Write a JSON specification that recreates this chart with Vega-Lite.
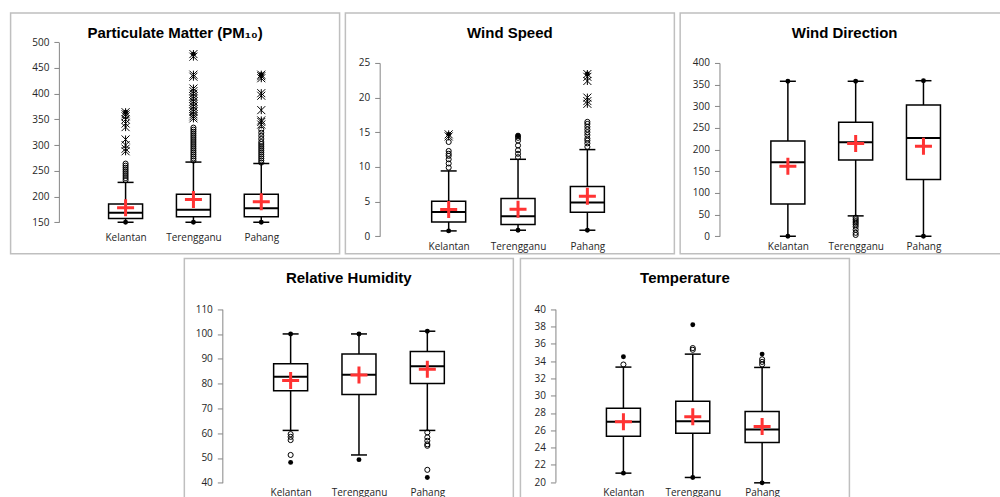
{
"$schema": "https://vega.github.io/schema/vega-lite/v6.json",
"padding": {"left": 9.25, "top": 11.95, "right": 0, "bottom": 0},
"background": "#ffffff",
"config": {
 "view": {"stroke": "#bfbfbf", "strokeWidth": 1.5},
 "axis": {"grid": false, "domainColor": "#868686", "tickColor": "#868686", "labelColor": "#262626", "labelFont": "Open Sans", "labelFontSize": 10, "title": null, "labelOverlap": false},
 "axisY": {"tickSize": 5, "labelPadding": 5, "domainWidth": 1, "tickWidth": 1, "labelOverlap": false},
 "axisX": {"domain": false, "ticks": false, "tickSize": 0, "labelPadding": 0, "labelAngle": 0},
 "title": {"font": "Liberation Sans", "fontSize": 15, "fontWeight": "bold", "color": "#000000", "anchor": "middle", "frame": "group", "baseline": "alphabetic"},
 "tick": {"opacity": 1},
 "point": {"opacity": 1}
},
"datasets": {
 "boxes": [
  {"panel": "PM", "site": "Kelantan", "lo": 150, "q1": 157.5, "med": 168.5, "q3": 185.5, "hi": 227.5, "mean": 178},
  {"panel": "PM", "site": "Terengganu", "lo": 150, "q1": 160.5, "med": 174.5, "q3": 204.5, "hi": 267, "mean": 194},
  {"panel": "PM", "site": "Pahang", "lo": 150, "q1": 160.5, "med": 177, "q3": 204.5, "hi": 264, "mean": 190},
  {"panel": "WS", "site": "Kelantan", "lo": 0.77, "q1": 2.07, "med": 3.5, "q3": 5.05, "hi": 9.42, "mean": 3.85},
  {"panel": "WS", "site": "Terengganu", "lo": 0.87, "q1": 1.68, "med": 2.88, "q3": 5.43, "hi": 11.1, "mean": 3.9},
  {"panel": "WS", "site": "Pahang", "lo": 0.87, "q1": 3.46, "med": 4.86, "q3": 7.16, "hi": 12.5, "mean": 5.77},
  {"panel": "WD", "site": "Kelantan", "lo": 0, "q1": 74.6, "med": 170.8, "q3": 220, "hi": 357.7, "mean": 161.5},
  {"panel": "WD", "site": "Terengganu", "lo": 47, "q1": 176, "med": 217, "q3": 263, "hi": 357.7, "mean": 213.8},
  {"panel": "WD", "site": "Pahang", "lo": 0, "q1": 130.8, "med": 227, "q3": 303, "hi": 359, "mean": 207.7},
  {"panel": "RH", "site": "Kelantan", "lo": 61.1, "q1": 77.1, "med": 82.7, "q3": 88, "hi": 100, "mean": 81.2},
  {"panel": "RH", "site": "Terengganu", "lo": 51.2, "q1": 75.6, "med": 83.5, "q3": 91.9, "hi": 100, "mean": 83.4},
  {"panel": "RH", "site": "Pahang", "lo": 61.1, "q1": 80, "med": 87, "q3": 92.9, "hi": 101.1, "mean": 85.8},
  {"panel": "T", "site": "Kelantan", "lo": 21.04, "q1": 25.3, "med": 26.97, "q3": 28.55, "hi": 33.3, "mean": 26.97},
  {"panel": "T", "site": "Terengganu", "lo": 20.54, "q1": 25.66, "med": 27.05, "q3": 29.36, "hi": 34.8, "mean": 27.55},
  {"panel": "T", "site": "Pahang", "lo": 19.92, "q1": 24.59, "med": 26.09, "q3": 28.17, "hi": 33.26, "mean": 26.44}
 ],
 "points": [
  {"panel": "PM", "site": "Kelantan", "kind": "mild", "value": 232},
  {"panel": "PM", "site": "Kelantan", "kind": "mild", "value": 236},
  {"panel": "PM", "site": "Kelantan", "kind": "mild", "value": 240},
  {"panel": "PM", "site": "Kelantan", "kind": "mild", "value": 244},
  {"panel": "PM", "site": "Kelantan", "kind": "mild", "value": 248},
  {"panel": "PM", "site": "Kelantan", "kind": "mild", "value": 252},
  {"panel": "PM", "site": "Kelantan", "kind": "mild", "value": 256},
  {"panel": "PM", "site": "Kelantan", "kind": "mild", "value": 260},
  {"panel": "PM", "site": "Kelantan", "kind": "mild", "value": 264},
  {"panel": "PM", "site": "Kelantan", "kind": "extreme", "value": 288},
  {"panel": "PM", "site": "Kelantan", "kind": "extreme", "value": 293},
  {"panel": "PM", "site": "Kelantan", "kind": "extreme", "value": 300},
  {"panel": "PM", "site": "Kelantan", "kind": "extreme", "value": 311},
  {"panel": "PM", "site": "Kelantan", "kind": "extreme", "value": 335},
  {"panel": "PM", "site": "Kelantan", "kind": "extreme", "value": 342},
  {"panel": "PM", "site": "Kelantan", "kind": "extreme", "value": 350},
  {"panel": "PM", "site": "Kelantan", "kind": "extreme", "value": 356},
  {"panel": "PM", "site": "Kelantan", "kind": "extreme", "value": 360},
  {"panel": "PM", "site": "Kelantan", "kind": "extreme", "value": 364},
  {"panel": "PM", "site": "Kelantan", "kind": "dot", "value": 150},
  {"panel": "PM", "site": "Kelantan", "kind": "dot", "value": 364},
  {"panel": "PM", "site": "Terengganu", "kind": "mild", "value": 270},
  {"panel": "PM", "site": "Terengganu", "kind": "mild", "value": 274},
  {"panel": "PM", "site": "Terengganu", "kind": "mild", "value": 278},
  {"panel": "PM", "site": "Terengganu", "kind": "mild", "value": 282},
  {"panel": "PM", "site": "Terengganu", "kind": "mild", "value": 286},
  {"panel": "PM", "site": "Terengganu", "kind": "mild", "value": 290},
  {"panel": "PM", "site": "Terengganu", "kind": "mild", "value": 294},
  {"panel": "PM", "site": "Terengganu", "kind": "mild", "value": 298},
  {"panel": "PM", "site": "Terengganu", "kind": "mild", "value": 302},
  {"panel": "PM", "site": "Terengganu", "kind": "mild", "value": 306},
  {"panel": "PM", "site": "Terengganu", "kind": "mild", "value": 310},
  {"panel": "PM", "site": "Terengganu", "kind": "mild", "value": 314},
  {"panel": "PM", "site": "Terengganu", "kind": "mild", "value": 318},
  {"panel": "PM", "site": "Terengganu", "kind": "mild", "value": 322},
  {"panel": "PM", "site": "Terengganu", "kind": "mild", "value": 326},
  {"panel": "PM", "site": "Terengganu", "kind": "mild", "value": 330},
  {"panel": "PM", "site": "Terengganu", "kind": "mild", "value": 334},
  {"panel": "PM", "site": "Terengganu", "kind": "extreme", "value": 352},
  {"panel": "PM", "site": "Terengganu", "kind": "extreme", "value": 356},
  {"panel": "PM", "site": "Terengganu", "kind": "extreme", "value": 360},
  {"panel": "PM", "site": "Terengganu", "kind": "extreme", "value": 365},
  {"panel": "PM", "site": "Terengganu", "kind": "extreme", "value": 370},
  {"panel": "PM", "site": "Terengganu", "kind": "extreme", "value": 375},
  {"panel": "PM", "site": "Terengganu", "kind": "extreme", "value": 380},
  {"panel": "PM", "site": "Terengganu", "kind": "extreme", "value": 385},
  {"panel": "PM", "site": "Terengganu", "kind": "extreme", "value": 390},
  {"panel": "PM", "site": "Terengganu", "kind": "extreme", "value": 395},
  {"panel": "PM", "site": "Terengganu", "kind": "extreme", "value": 400},
  {"panel": "PM", "site": "Terengganu", "kind": "extreme", "value": 405},
  {"panel": "PM", "site": "Terengganu", "kind": "extreme", "value": 410},
  {"panel": "PM", "site": "Terengganu", "kind": "extreme", "value": 433},
  {"panel": "PM", "site": "Terengganu", "kind": "extreme", "value": 437},
  {"panel": "PM", "site": "Terengganu", "kind": "extreme", "value": 472},
  {"panel": "PM", "site": "Terengganu", "kind": "extreme", "value": 477},
  {"panel": "PM", "site": "Terengganu", "kind": "dot", "value": 150},
  {"panel": "PM", "site": "Terengganu", "kind": "dot", "value": 477},
  {"panel": "PM", "site": "Pahang", "kind": "mild", "value": 266},
  {"panel": "PM", "site": "Pahang", "kind": "mild", "value": 270},
  {"panel": "PM", "site": "Pahang", "kind": "mild", "value": 274},
  {"panel": "PM", "site": "Pahang", "kind": "mild", "value": 278},
  {"panel": "PM", "site": "Pahang", "kind": "mild", "value": 282},
  {"panel": "PM", "site": "Pahang", "kind": "mild", "value": 286},
  {"panel": "PM", "site": "Pahang", "kind": "mild", "value": 290},
  {"panel": "PM", "site": "Pahang", "kind": "mild", "value": 294},
  {"panel": "PM", "site": "Pahang", "kind": "mild", "value": 298},
  {"panel": "PM", "site": "Pahang", "kind": "mild", "value": 302},
  {"panel": "PM", "site": "Pahang", "kind": "mild", "value": 306},
  {"panel": "PM", "site": "Pahang", "kind": "mild", "value": 312},
  {"panel": "PM", "site": "Pahang", "kind": "mild", "value": 318},
  {"panel": "PM", "site": "Pahang", "kind": "mild", "value": 324},
  {"panel": "PM", "site": "Pahang", "kind": "mild", "value": 330},
  {"panel": "PM", "site": "Pahang", "kind": "extreme", "value": 340},
  {"panel": "PM", "site": "Pahang", "kind": "extreme", "value": 345},
  {"panel": "PM", "site": "Pahang", "kind": "extreme", "value": 348},
  {"panel": "PM", "site": "Pahang", "kind": "extreme", "value": 368},
  {"panel": "PM", "site": "Pahang", "kind": "extreme", "value": 396},
  {"panel": "PM", "site": "Pahang", "kind": "extreme", "value": 401},
  {"panel": "PM", "site": "Pahang", "kind": "extreme", "value": 430},
  {"panel": "PM", "site": "Pahang", "kind": "extreme", "value": 434},
  {"panel": "PM", "site": "Pahang", "kind": "extreme", "value": 437},
  {"panel": "PM", "site": "Pahang", "kind": "dot", "value": 150},
  {"panel": "PM", "site": "Pahang", "kind": "dot", "value": 437},
  {"panel": "WS", "site": "Kelantan", "kind": "mild", "value": 9.9},
  {"panel": "WS", "site": "Kelantan", "kind": "mild", "value": 10.5},
  {"panel": "WS", "site": "Kelantan", "kind": "mild", "value": 11.1},
  {"panel": "WS", "site": "Kelantan", "kind": "mild", "value": 11.6},
  {"panel": "WS", "site": "Kelantan", "kind": "mild", "value": 11.9},
  {"panel": "WS", "site": "Kelantan", "kind": "mild", "value": 12.3},
  {"panel": "WS", "site": "Kelantan", "kind": "mild", "value": 13.6},
  {"panel": "WS", "site": "Kelantan", "kind": "extreme", "value": 14.4},
  {"panel": "WS", "site": "Kelantan", "kind": "extreme", "value": 14.7},
  {"panel": "WS", "site": "Kelantan", "kind": "dot", "value": 0.77},
  {"panel": "WS", "site": "Kelantan", "kind": "dot", "value": 14.7},
  {"panel": "WS", "site": "Terengganu", "kind": "mild", "value": 11.4},
  {"panel": "WS", "site": "Terengganu", "kind": "mild", "value": 11.9},
  {"panel": "WS", "site": "Terengganu", "kind": "mild", "value": 12.4},
  {"panel": "WS", "site": "Terengganu", "kind": "mild", "value": 13.1},
  {"panel": "WS", "site": "Terengganu", "kind": "mild", "value": 13.8},
  {"panel": "WS", "site": "Terengganu", "kind": "mild", "value": 14.2},
  {"panel": "WS", "site": "Terengganu", "kind": "mild", "value": 14.5},
  {"panel": "WS", "site": "Terengganu", "kind": "dot", "value": 0.87},
  {"panel": "WS", "site": "Terengganu", "kind": "dot", "value": 14.5},
  {"panel": "WS", "site": "Pahang", "kind": "mild", "value": 12.9},
  {"panel": "WS", "site": "Pahang", "kind": "mild", "value": 13.4},
  {"panel": "WS", "site": "Pahang", "kind": "mild", "value": 13.8},
  {"panel": "WS", "site": "Pahang", "kind": "mild", "value": 14.1},
  {"panel": "WS", "site": "Pahang", "kind": "mild", "value": 14.6},
  {"panel": "WS", "site": "Pahang", "kind": "mild", "value": 15.0},
  {"panel": "WS", "site": "Pahang", "kind": "mild", "value": 15.4},
  {"panel": "WS", "site": "Pahang", "kind": "mild", "value": 15.8},
  {"panel": "WS", "site": "Pahang", "kind": "mild", "value": 16.2},
  {"panel": "WS", "site": "Pahang", "kind": "mild", "value": 16.5},
  {"panel": "WS", "site": "Pahang", "kind": "extreme", "value": 19.1},
  {"panel": "WS", "site": "Pahang", "kind": "extreme", "value": 19.5},
  {"panel": "WS", "site": "Pahang", "kind": "extreme", "value": 20.0},
  {"panel": "WS", "site": "Pahang", "kind": "extreme", "value": 22.4},
  {"panel": "WS", "site": "Pahang", "kind": "extreme", "value": 23.0},
  {"panel": "WS", "site": "Pahang", "kind": "extreme", "value": 23.4},
  {"panel": "WS", "site": "Pahang", "kind": "dot", "value": 0.87},
  {"panel": "WS", "site": "Pahang", "kind": "dot", "value": 23.4},
  {"panel": "WD", "site": "Kelantan", "kind": "dot", "value": 0},
  {"panel": "WD", "site": "Kelantan", "kind": "dot", "value": 357.7},
  {"panel": "WD", "site": "Terengganu", "kind": "mild", "value": 43},
  {"panel": "WD", "site": "Terengganu", "kind": "mild", "value": 39},
  {"panel": "WD", "site": "Terengganu", "kind": "mild", "value": 35},
  {"panel": "WD", "site": "Terengganu", "kind": "mild", "value": 31},
  {"panel": "WD", "site": "Terengganu", "kind": "mild", "value": 27},
  {"panel": "WD", "site": "Terengganu", "kind": "mild", "value": 22},
  {"panel": "WD", "site": "Terengganu", "kind": "mild", "value": 15},
  {"panel": "WD", "site": "Terengganu", "kind": "mild", "value": 8},
  {"panel": "WD", "site": "Terengganu", "kind": "mild", "value": 3},
  {"panel": "WD", "site": "Terengganu", "kind": "dot", "value": 357.7},
  {"panel": "WD", "site": "Pahang", "kind": "dot", "value": 0},
  {"panel": "WD", "site": "Pahang", "kind": "dot", "value": 359},
  {"panel": "RH", "site": "Kelantan", "kind": "mild", "value": 59.6},
  {"panel": "RH", "site": "Kelantan", "kind": "mild", "value": 58.5},
  {"panel": "RH", "site": "Kelantan", "kind": "mild", "value": 57.2},
  {"panel": "RH", "site": "Kelantan", "kind": "mild", "value": 51.2},
  {"panel": "RH", "site": "Kelantan", "kind": "dot", "value": 48.2},
  {"panel": "RH", "site": "Kelantan", "kind": "dot", "value": 100},
  {"panel": "RH", "site": "Terengganu", "kind": "dot", "value": 49.3},
  {"panel": "RH", "site": "Terengganu", "kind": "dot", "value": 100},
  {"panel": "RH", "site": "Pahang", "kind": "mild", "value": 60.3},
  {"panel": "RH", "site": "Pahang", "kind": "mild", "value": 58.3},
  {"panel": "RH", "site": "Pahang", "kind": "mild", "value": 56.9},
  {"panel": "RH", "site": "Pahang", "kind": "mild", "value": 55.5},
  {"panel": "RH", "site": "Pahang", "kind": "mild", "value": 54.9},
  {"panel": "RH", "site": "Pahang", "kind": "mild", "value": 45.2},
  {"panel": "RH", "site": "Pahang", "kind": "dot", "value": 42.1},
  {"panel": "RH", "site": "Pahang", "kind": "dot", "value": 101.1},
  {"panel": "T", "site": "Kelantan", "kind": "mild", "value": 33.6},
  {"panel": "T", "site": "Kelantan", "kind": "dot", "value": 34.5},
  {"panel": "T", "site": "Kelantan", "kind": "dot", "value": 21.04},
  {"panel": "T", "site": "Terengganu", "kind": "mild", "value": 35.3},
  {"panel": "T", "site": "Terengganu", "kind": "mild", "value": 35.5},
  {"panel": "T", "site": "Terengganu", "kind": "dot", "value": 38.2},
  {"panel": "T", "site": "Terengganu", "kind": "dot", "value": 20.54},
  {"panel": "T", "site": "Pahang", "kind": "mild", "value": 33.6},
  {"panel": "T", "site": "Pahang", "kind": "mild", "value": 33.9},
  {"panel": "T", "site": "Pahang", "kind": "mild", "value": 34.2},
  {"panel": "T", "site": "Pahang", "kind": "dot", "value": 34.8},
  {"panel": "T", "site": "Pahang", "kind": "dot", "value": 19.92}
 ]
},
"vconcat": [
 {"hconcat": [
  {"width": 329, "height": 240.8,
   "title": {"text": "Particulate Matter (PM₁₀)", "offset": -28.5},
   "resolve": {"axis": {"y": "independent"}},
   "encoding": {"x": {"field": "site", "type": "nominal", "scale": {"type": "point", "padding": 0, "domain": ["Kelantan", "Terengganu", "Pahang"], "range": [115, 250.7]}, "axis": {"offset": -20.8}}},
   "layer": [
    {"data": {"name": "boxes"}, "transform": [{"filter": "datum.panel === 'PM'"}], "mark": {"type": "rule", "color": "#000000", "strokeWidth": 1.5},
     "encoding": {"y": {"field": "lo", "type": "quantitative", "title": null, "scale": {"domain": [150, 500], "range": [209.3, 29.3], "nice": false, "zero": false}, "axis": {"values": [150, 200, 250, 300, 350, 400, 450, 500], "offset": -48.3, "labelOverlap": false, "labelBound": false}}, "y2": {"field": "hi"}}},
    {"data": {"name": "boxes"}, "transform": [{"filter": "datum.panel === 'PM'"}], "mark": {"type": "bar", "size": 34, "fill": "#ffffff", "stroke": "#000000", "strokeWidth": 1.5},
     "encoding": {"y": {"field": "q1", "type": "quantitative", "axis": null}, "y2": {"field": "q3"}}},
    {"data": {"name": "boxes"}, "transform": [{"filter": "datum.panel === 'PM'"}], "mark": {"type": "tick", "size": 34, "thickness": 2, "color": "#000000"},
     "encoding": {"y": {"field": "med", "type": "quantitative", "axis": null}}},
    {"data": {"name": "boxes"}, "transform": [{"filter": "datum.panel === 'PM'"}], "mark": {"type": "tick", "size": 16, "thickness": 1.5, "color": "#000000"},
     "encoding": {"y": {"field": "lo", "type": "quantitative", "axis": null}}},
    {"data": {"name": "boxes"}, "transform": [{"filter": "datum.panel === 'PM'"}], "mark": {"type": "tick", "size": 16, "thickness": 1.5, "color": "#000000"},
     "encoding": {"y": {"field": "hi", "type": "quantitative", "axis": null}}},
    {"data": {"name": "points"}, "transform": [{"filter": "datum.panel === 'PM' && datum.kind === 'mild'"}], "mark": {"type": "point", "shape": "circle", "filled": false, "stroke": "#000000", "strokeWidth": 1, "size": 26},
     "encoding": {"y": {"field": "value", "type": "quantitative", "axis": null}}},
    {"data": {"name": "points"}, "transform": [{"filter": "datum.panel === 'PM' && datum.kind === 'extreme'"}], "mark": {"type": "point", "shape": "M-1,-1L1,1M-1,1L1,-1M0,-1L0,1", "filled": false, "stroke": "#000000", "strokeWidth": 1, "size": 64},
     "encoding": {"y": {"field": "value", "type": "quantitative", "axis": null}}},
    {"data": {"name": "points"}, "transform": [{"filter": "datum.panel === 'PM' && datum.kind === 'dot'"}], "mark": {"type": "point", "shape": "circle", "filled": true, "fill": "#000000", "size": 24},
     "encoding": {"y": {"field": "value", "type": "quantitative", "axis": null}}},
    {"data": {"name": "boxes"}, "transform": [{"filter": "datum.panel === 'PM'"}], "mark": {"type": "point", "shape": "M-1,0L1,0M0,-1L0,1", "filled": false, "stroke": "#ff3333", "strokeWidth": 3, "size": 289},
     "encoding": {"y": {"field": "mean", "type": "quantitative", "axis": null}}}
   ]},
  {"width": 329, "height": 240.8,
   "title": {"text": "Wind Speed", "offset": -28.5},
   "resolve": {"axis": {"y": "independent"}},
   "encoding": {"x": {"field": "site", "type": "nominal", "scale": {"type": "point", "padding": 0, "domain": ["Kelantan", "Terengganu", "Pahang"], "range": [103.3, 242]}, "axis": {"offset": -12.3}}},
   "layer": [
    {"data": {"name": "boxes"}, "transform": [{"filter": "datum.panel === 'WS'"}], "mark": {"type": "rule", "color": "#000000", "strokeWidth": 1.5},
     "encoding": {"y": {"field": "lo", "type": "quantitative", "title": null, "scale": {"domain": [0, 25], "range": [223.3, 50], "nice": false, "zero": false}, "axis": {"values": [0, 5, 10, 15, 20, 25], "offset": -34.3, "labelOverlap": false, "labelBound": false}}, "y2": {"field": "hi"}}},
    {"data": {"name": "boxes"}, "transform": [{"filter": "datum.panel === 'WS'"}], "mark": {"type": "bar", "size": 34, "fill": "#ffffff", "stroke": "#000000", "strokeWidth": 1.5},
     "encoding": {"y": {"field": "q1", "type": "quantitative", "axis": null}, "y2": {"field": "q3"}}},
    {"data": {"name": "boxes"}, "transform": [{"filter": "datum.panel === 'WS'"}], "mark": {"type": "tick", "size": 34, "thickness": 2, "color": "#000000"},
     "encoding": {"y": {"field": "med", "type": "quantitative", "axis": null}}},
    {"data": {"name": "boxes"}, "transform": [{"filter": "datum.panel === 'WS'"}], "mark": {"type": "tick", "size": 16, "thickness": 1.5, "color": "#000000"},
     "encoding": {"y": {"field": "lo", "type": "quantitative", "axis": null}}},
    {"data": {"name": "boxes"}, "transform": [{"filter": "datum.panel === 'WS'"}], "mark": {"type": "tick", "size": 16, "thickness": 1.5, "color": "#000000"},
     "encoding": {"y": {"field": "hi", "type": "quantitative", "axis": null}}},
    {"data": {"name": "points"}, "transform": [{"filter": "datum.panel === 'WS' && datum.kind === 'mild'"}], "mark": {"type": "point", "shape": "circle", "filled": false, "stroke": "#000000", "strokeWidth": 1, "size": 26},
     "encoding": {"y": {"field": "value", "type": "quantitative", "axis": null}}},
    {"data": {"name": "points"}, "transform": [{"filter": "datum.panel === 'WS' && datum.kind === 'extreme'"}], "mark": {"type": "point", "shape": "M-1,-1L1,1M-1,1L1,-1M0,-1L0,1", "filled": false, "stroke": "#000000", "strokeWidth": 1, "size": 64},
     "encoding": {"y": {"field": "value", "type": "quantitative", "axis": null}}},
    {"data": {"name": "points"}, "transform": [{"filter": "datum.panel === 'WS' && datum.kind === 'dot'"}], "mark": {"type": "point", "shape": "circle", "filled": true, "fill": "#000000", "size": 24},
     "encoding": {"y": {"field": "value", "type": "quantitative", "axis": null}}},
    {"data": {"name": "boxes"}, "transform": [{"filter": "datum.panel === 'WS'"}], "mark": {"type": "point", "shape": "M-1,0L1,0M0,-1L0,1", "filled": false, "stroke": "#ff3333", "strokeWidth": 3, "size": 289},
     "encoding": {"y": {"field": "mean", "type": "quantitative", "axis": null}}}
   ]},
  {"width": 343, "height": 240.8,
   "title": {"text": "Wind Direction", "offset": -28.5, "dx": -7},
   "resolve": {"axis": {"y": "independent"}},
   "encoding": {"x": {"field": "site", "type": "nominal", "scale": {"type": "point", "padding": 0, "domain": ["Kelantan", "Terengganu", "Pahang"], "range": [107.7, 243.3]}, "axis": {"offset": -12.3}}},
   "layer": [
    {"data": {"name": "boxes"}, "transform": [{"filter": "datum.panel === 'WD'"}], "mark": {"type": "rule", "color": "#000000", "strokeWidth": 1.5},
     "encoding": {"y": {"field": "lo", "type": "quantitative", "title": null, "scale": {"domain": [0, 400], "range": [223.3, 50], "nice": false, "zero": false}, "axis": {"values": [0, 50, 100, 150, 200, 250, 300, 350, 400], "offset": -39.3, "labelOverlap": false, "labelBound": false}}, "y2": {"field": "hi"}}},
    {"data": {"name": "boxes"}, "transform": [{"filter": "datum.panel === 'WD'"}], "mark": {"type": "bar", "size": 34, "fill": "#ffffff", "stroke": "#000000", "strokeWidth": 1.5},
     "encoding": {"y": {"field": "q1", "type": "quantitative", "axis": null}, "y2": {"field": "q3"}}},
    {"data": {"name": "boxes"}, "transform": [{"filter": "datum.panel === 'WD'"}], "mark": {"type": "tick", "size": 34, "thickness": 2, "color": "#000000"},
     "encoding": {"y": {"field": "med", "type": "quantitative", "axis": null}}},
    {"data": {"name": "boxes"}, "transform": [{"filter": "datum.panel === 'WD'"}], "mark": {"type": "tick", "size": 16, "thickness": 1.5, "color": "#000000"},
     "encoding": {"y": {"field": "lo", "type": "quantitative", "axis": null}}},
    {"data": {"name": "boxes"}, "transform": [{"filter": "datum.panel === 'WD'"}], "mark": {"type": "tick", "size": 16, "thickness": 1.5, "color": "#000000"},
     "encoding": {"y": {"field": "hi", "type": "quantitative", "axis": null}}},
    {"data": {"name": "points"}, "transform": [{"filter": "datum.panel === 'WD' && datum.kind === 'mild'"}], "mark": {"type": "point", "shape": "circle", "filled": false, "stroke": "#000000", "strokeWidth": 1, "size": 26},
     "encoding": {"y": {"field": "value", "type": "quantitative", "axis": null}}},
    {"data": {"name": "points"}, "transform": [{"filter": "datum.panel === 'WD' && datum.kind === 'dot'"}], "mark": {"type": "point", "shape": "circle", "filled": true, "fill": "#000000", "size": 24},
     "encoding": {"y": {"field": "value", "type": "quantitative", "axis": null}}},
    {"data": {"name": "boxes"}, "transform": [{"filter": "datum.panel === 'WD'"}], "mark": {"type": "point", "shape": "M-1,0L1,0M0,-1L0,1", "filled": false, "stroke": "#ff3333", "strokeWidth": 3, "size": 289},
     "encoding": {"y": {"field": "mean", "type": "quantitative", "axis": null}}}
   ]}
 ], "spacing": 3.8},
 {"hconcat": [
  {"width": 329, "height": 240.8,
   "title": {"text": "Relative Humidity", "offset": -27.3},
   "resolve": {"axis": {"y": "independent"}},
   "encoding": {"x": {"field": "site", "type": "nominal", "scale": {"type": "point", "padding": 0, "domain": ["Kelantan", "Terengganu", "Pahang"], "range": [106.3, 243]}, "axis": {"offset": -12.1}}},
   "layer": [
    {"data": {"name": "boxes"}, "transform": [{"filter": "datum.panel === 'RH'"}], "mark": {"type": "rule", "color": "#000000", "strokeWidth": 1.5},
     "encoding": {"y": {"field": "lo", "type": "quantitative", "title": null, "scale": {"domain": [40, 110], "range": [224.3, 50.7], "nice": false, "zero": false}, "axis": {"values": [40, 50, 60, 70, 80, 90, 100, 110], "offset": -38, "labelOverlap": false, "labelBound": false}}, "y2": {"field": "hi"}}},
    {"data": {"name": "boxes"}, "transform": [{"filter": "datum.panel === 'RH'"}], "mark": {"type": "bar", "size": 34, "fill": "#ffffff", "stroke": "#000000", "strokeWidth": 1.5},
     "encoding": {"y": {"field": "q1", "type": "quantitative", "axis": null}, "y2": {"field": "q3"}}},
    {"data": {"name": "boxes"}, "transform": [{"filter": "datum.panel === 'RH'"}], "mark": {"type": "tick", "size": 34, "thickness": 2, "color": "#000000"},
     "encoding": {"y": {"field": "med", "type": "quantitative", "axis": null}}},
    {"data": {"name": "boxes"}, "transform": [{"filter": "datum.panel === 'RH'"}], "mark": {"type": "tick", "size": 16, "thickness": 1.5, "color": "#000000"},
     "encoding": {"y": {"field": "lo", "type": "quantitative", "axis": null}}},
    {"data": {"name": "boxes"}, "transform": [{"filter": "datum.panel === 'RH'"}], "mark": {"type": "tick", "size": 16, "thickness": 1.5, "color": "#000000"},
     "encoding": {"y": {"field": "hi", "type": "quantitative", "axis": null}}},
    {"data": {"name": "points"}, "transform": [{"filter": "datum.panel === 'RH' && datum.kind === 'mild'"}], "mark": {"type": "point", "shape": "circle", "filled": false, "stroke": "#000000", "strokeWidth": 1, "size": 26},
     "encoding": {"y": {"field": "value", "type": "quantitative", "axis": null}}},
    {"data": {"name": "points"}, "transform": [{"filter": "datum.panel === 'RH' && datum.kind === 'dot'"}], "mark": {"type": "point", "shape": "circle", "filled": true, "fill": "#000000", "size": 24},
     "encoding": {"y": {"field": "value", "type": "quantitative", "axis": null}}},
    {"data": {"name": "boxes"}, "transform": [{"filter": "datum.panel === 'RH'"}], "mark": {"type": "point", "shape": "M-1,0L1,0M0,-1L0,1", "filled": false, "stroke": "#ff3333", "strokeWidth": 3, "size": 289},
     "encoding": {"y": {"field": "mean", "type": "quantitative", "axis": null}}}
   ]},
  {"width": 329, "height": 240.8,
   "title": {"text": "Temperature", "offset": -27.3},
   "resolve": {"axis": {"y": "independent"}},
   "encoding": {"x": {"field": "site", "type": "nominal", "scale": {"type": "point", "padding": 0, "domain": ["Kelantan", "Terengganu", "Pahang"], "range": [103, 241.7]}, "axis": {"offset": -12.1}}},
   "layer": [
    {"data": {"name": "boxes"}, "transform": [{"filter": "datum.panel === 'T'"}], "mark": {"type": "rule", "color": "#000000", "strokeWidth": 1.5},
     "encoding": {"y": {"field": "lo", "type": "quantitative", "title": null, "scale": {"domain": [20, 40], "range": [223.7, 50.7], "nice": false, "zero": false}, "axis": {"values": [20, 22, 24, 26, 28, 30, 32, 34, 36, 38, 40], "offset": -35, "labelOverlap": false, "labelBound": false}}, "y2": {"field": "hi"}}},
    {"data": {"name": "boxes"}, "transform": [{"filter": "datum.panel === 'T'"}], "mark": {"type": "bar", "size": 34, "fill": "#ffffff", "stroke": "#000000", "strokeWidth": 1.5},
     "encoding": {"y": {"field": "q1", "type": "quantitative", "axis": null}, "y2": {"field": "q3"}}},
    {"data": {"name": "boxes"}, "transform": [{"filter": "datum.panel === 'T'"}], "mark": {"type": "tick", "size": 34, "thickness": 2, "color": "#000000"},
     "encoding": {"y": {"field": "med", "type": "quantitative", "axis": null}}},
    {"data": {"name": "boxes"}, "transform": [{"filter": "datum.panel === 'T'"}], "mark": {"type": "tick", "size": 16, "thickness": 1.5, "color": "#000000"},
     "encoding": {"y": {"field": "lo", "type": "quantitative", "axis": null}}},
    {"data": {"name": "boxes"}, "transform": [{"filter": "datum.panel === 'T'"}], "mark": {"type": "tick", "size": 16, "thickness": 1.5, "color": "#000000"},
     "encoding": {"y": {"field": "hi", "type": "quantitative", "axis": null}}},
    {"data": {"name": "points"}, "transform": [{"filter": "datum.panel === 'T' && datum.kind === 'mild'"}], "mark": {"type": "point", "shape": "circle", "filled": false, "stroke": "#000000", "strokeWidth": 1, "size": 26},
     "encoding": {"y": {"field": "value", "type": "quantitative", "axis": null}}},
    {"data": {"name": "points"}, "transform": [{"filter": "datum.panel === 'T' && datum.kind === 'dot'"}], "mark": {"type": "point", "shape": "circle", "filled": true, "fill": "#000000", "size": 24},
     "encoding": {"y": {"field": "value", "type": "quantitative", "axis": null}}},
    {"data": {"name": "boxes"}, "transform": [{"filter": "datum.panel === 'T'"}], "mark": {"type": "point", "shape": "M-1,0L1,0M0,-1L0,1", "filled": false, "stroke": "#ff3333", "strokeWidth": 3, "size": 289},
     "encoding": {"y": {"field": "mean", "type": "quantitative", "axis": null}}}
   ]}
 ], "spacing": 5.1}
],
"spacing": 2.5,
"center": true
}
